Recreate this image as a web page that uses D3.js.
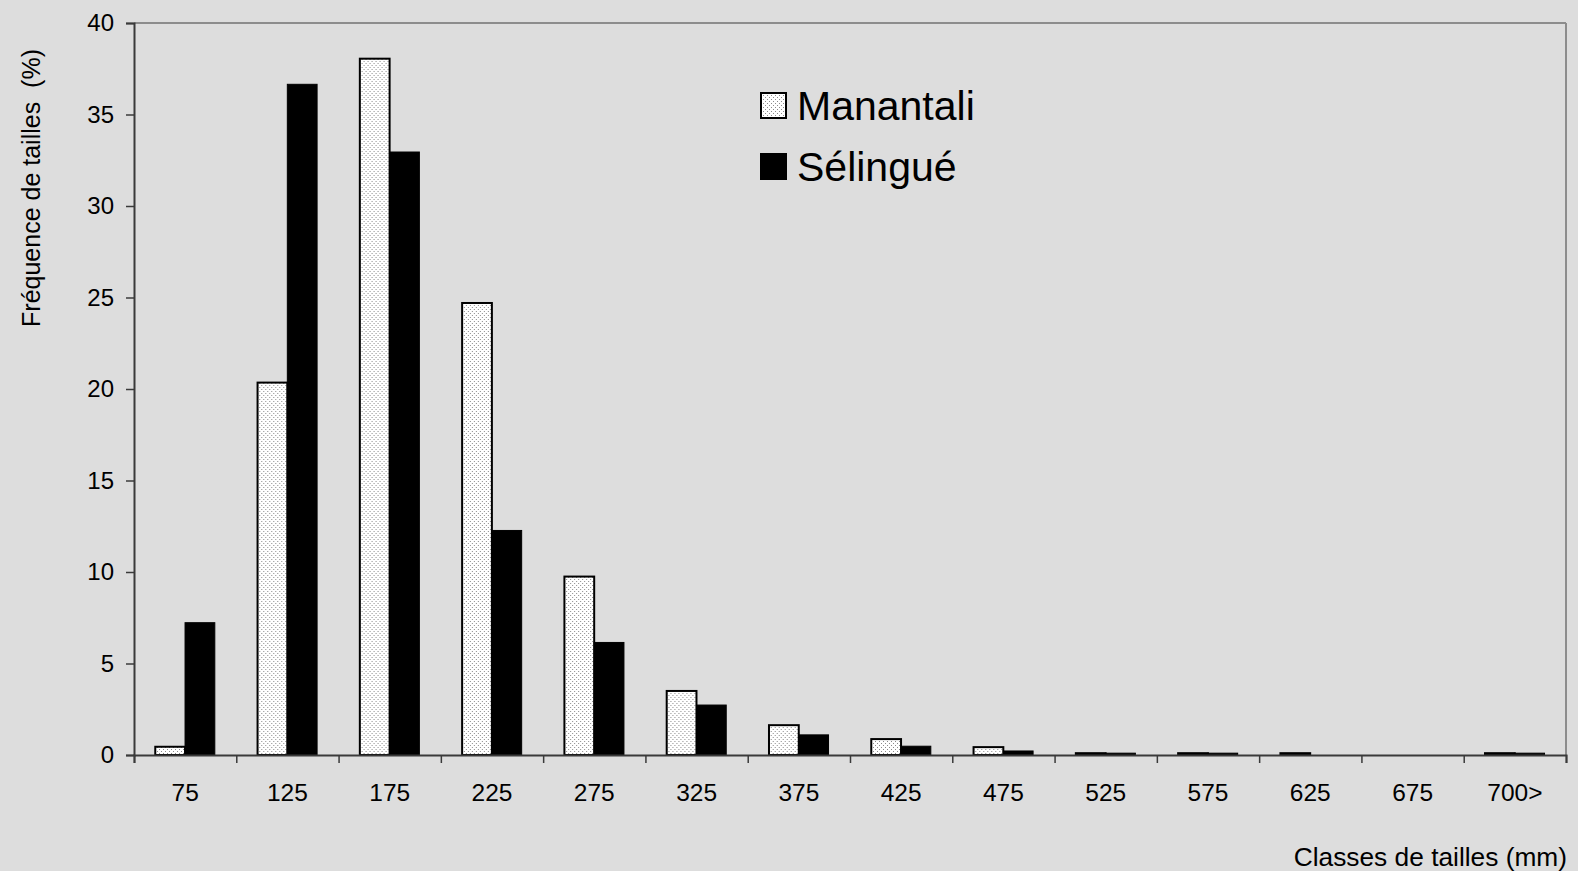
<!DOCTYPE html>
<html>
<head>
<meta charset="utf-8">
<script src="https://cdn.jsdelivr.net/npm/d3@7"></script>
<style>
  html, body { margin: 0; padding: 0; background: #dddddd; }
  svg { display: block; }
  text { font-family: "Liberation Sans", Arial, sans-serif; fill: #000; }
</style>
</head>
<body>
<svg id="chart" width="1578" height="871"></svg>
<script>
// Size classes (mm) on the x axis
const categories = ["75", "125", "175", "225", "275", "325", "375", "425", "475", "525", "575", "625", "675", "700>"];
// Size frequency (%) per class
const manantali = [0.45, 20.35, 38.05, 24.7, 9.75, 3.5, 1.63, 0.87, 0.43, 0.1, 0.1, 0.1, 0, 0.1];
const selingue  = [7.23, 36.65, 32.95, 12.27, 6.15, 2.73, 1.1, 0.48, 0.22, 0.1, 0.1, 0, 0, 0.1];
const seriesNames = ["Manantali", "Sélingué"];
const yTicks = [0, 5, 10, 15, 20, 25, 30, 35, 40];

const svg = d3.select("#chart");
const W = 1578, H = 871;
const plotLeft = 134, plotRight = 1566, plotTop = 23, plotBottom = 755;

svg.append("rect").attr("width", W).attr("height", H).attr("fill", "#dddddd");

// Dotted fill for the Manantali bars
const defs = svg.append("defs");
const pat = defs.append("pattern")
  .attr("id", "dots").attr("patternUnits", "userSpaceOnUse")
  .attr("width", 4).attr("height", 4);
pat.append("rect").attr("width", 4).attr("height", 4).attr("fill", "#ffffff");
pat.append("rect").attr("x", 1).attr("y", 1).attr("width", 1).attr("height", 1).attr("fill", "#8a8a8a");
pat.append("rect").attr("x", 3).attr("y", 3).attr("width", 1).attr("height", 1).attr("fill", "#8a8a8a");

const x = d3.scaleBand().domain(categories).range([plotLeft, plotRight]).padding(0);
const bw = x.bandwidth();
const x1 = d3.scaleBand().domain(seriesNames).range([0.208 * bw, 0.79 * bw]).padding(0);
const y = d3.scaleLinear().domain([0, 40]).range([plotBottom, plotTop]);

// Plot frame: grey top and right edges
svg.append("line").attr("x1", plotLeft).attr("x2", plotRight).attr("y1", plotTop).attr("y2", plotTop)
  .attr("stroke", "#8c8c8c").attr("stroke-width", 2);
svg.append("line").attr("x1", plotRight).attr("x2", plotRight).attr("y1", plotTop).attr("y2", plotBottom)
  .attr("stroke", "#8c8c8c").attr("stroke-width", 2);

const rows = categories.map((c, i) => ({ c, vals: [manantali[i], selingue[i]] }));

const groups = svg.append("g").selectAll("g").data(rows).join("g")
  .attr("transform", d => `translate(${x(d.c)},0)`);

groups.selectAll("rect").data(d => d.vals.map((v, k) => ({ k, v })).filter(e => e.v > 0))
  .join("rect")
  .attr("x", e => x1(seriesNames[e.k]))
  .attr("width", x1.bandwidth())
  .attr("y", e => y(e.v))
  .attr("height", e => y(0) - y(e.v))
  .attr("fill", e => e.k === 0 ? "url(#dots)" : "#000")
  .attr("stroke", "#000")
  .attr("stroke-width", e => e.k === 0 ? 2 : 1);

// Y axis
const yAxis = d3.axisLeft(y).tickValues(yTicks).tickSize(8).tickPadding(12).tickFormat(d3.format("d"));
const gy = svg.append("g").attr("transform", `translate(${plotLeft},0)`).call(yAxis);
gy.select(".domain").attr("stroke", "#3a3a3a").attr("stroke-width", 2);
gy.selectAll(".tick line").attr("stroke", "#3a3a3a").attr("stroke-width", 1.5);
gy.selectAll(".tick text").attr("font-size", 24).attr("font-family", "Liberation Sans, Arial, sans-serif").attr("fill", "#000");

// X axis: ticks on class boundaries, labels at class centres
const boundaries = d3.range(categories.length + 1).map(i => plotLeft + i * bw);
const xb = d3.scaleLinear().domain([plotLeft, plotRight]).range([plotLeft, plotRight]);
const xAxis = d3.axisBottom(xb).tickValues(boundaries).tickSize(8).tickFormat("");
const gx = svg.append("g").attr("transform", `translate(0,${plotBottom})`).call(xAxis);
gx.select(".domain").attr("stroke", "#3a3a3a").attr("stroke-width", 2);
gx.selectAll(".tick line").attr("stroke", "#3a3a3a").attr("stroke-width", 1.5);

svg.append("g").selectAll("text").data(categories).join("text")
  .attr("x", d => x(d) + bw / 2)
  .attr("y", 801)
  .attr("text-anchor", "middle")
  .attr("font-size", 24.5)
  .text(d => d);

// Axis titles
svg.append("text")
  .attr("transform", "translate(40,188) rotate(-90)")
  .attr("text-anchor", "middle")
  .attr("font-size", 25)
  .attr("xml:space", "preserve")
  .text("Fréquence de tailles  (%)");

svg.append("text")
  .attr("x", 1567).attr("y", 866)
  .attr("text-anchor", "end")
  .attr("font-size", 26.3)
  .text("Classes de tailles (mm)");

// Legend
const legend = svg.append("g").attr("transform", "translate(760,92)");
const li = legend.selectAll("g").data(seriesNames).join("g")
  .attr("transform", (d, i) => `translate(0,${i * 61})`);
li.append("rect")
  .attr("x", 1).attr("y", 1).attr("width", 25).attr("height", 25)
  .attr("fill", (d, i) => i === 0 ? "url(#dots)" : "#000")
  .attr("stroke", "#000").attr("stroke-width", 2);
li.append("text")
  .attr("x", 37).attr("y", 28)
  .attr("font-size", 41)
  .text(d => d);
</script>
</body>
</html>
